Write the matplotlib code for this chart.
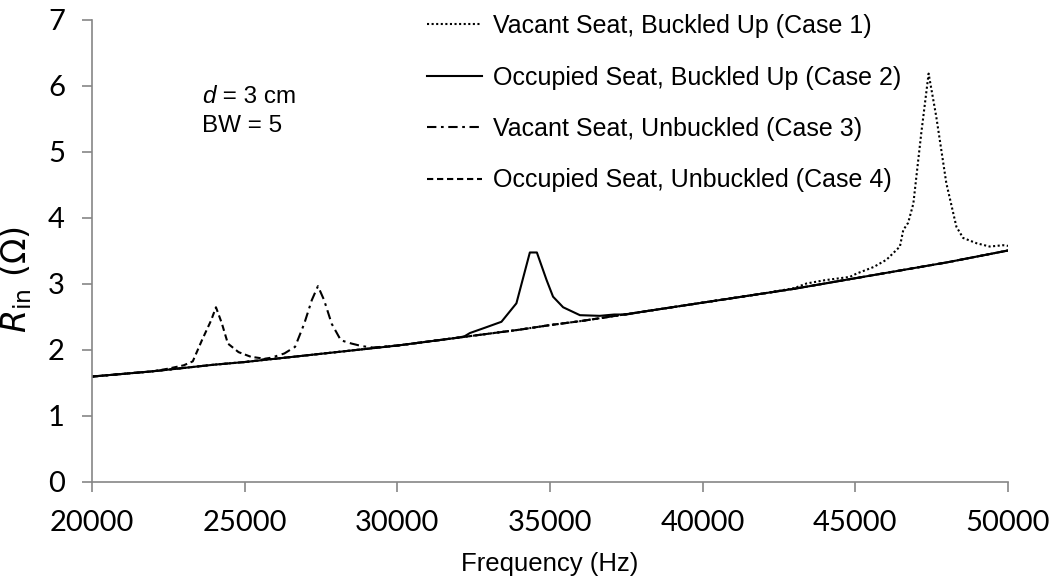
import numpy as np
import matplotlib.pyplot as plt

plt.rcParams['mathtext.fontset'] = 'dejavusans'

# Common background response (Hz, ohm) shared by all four cases
base_freq = [20000, 21000, 22000, 23000, 24000, 25000, 26000, 27000, 28000, 29000,
             30000, 31000, 32000, 33000, 34000, 35000, 36000, 37000, 38000, 39000,
             40000, 41000, 42000, 43000, 44000, 45000, 46000, 47000, 48000, 49000, 50000]
base_r = [1.59, 1.63, 1.67, 1.72, 1.77, 1.81, 1.86, 1.91, 1.96, 2.01,
          2.06, 2.12, 2.18, 2.24, 2.30, 2.37, 2.43, 2.50, 2.57, 2.64,
          2.71, 2.78, 2.85, 2.92, 3.00, 3.08, 3.16, 3.24, 3.32, 3.41, 3.50]

# Resonance segments of each case
case1_freq = [43000, 43400, 44000, 44820, 45040, 45600, 46020, 46130, 46460, 46570, 46730,
              46900, 47160, 47400, 47650, 47980, 48310, 48530, 48970, 49400, 49840, 50000]
case1_r = [2.93, 3.00, 3.05, 3.10, 3.15, 3.25, 3.36, 3.41, 3.56, 3.81, 3.92,
           4.21, 5.28, 6.18, 5.53, 4.52, 3.86, 3.69, 3.61, 3.56, 3.58, 3.57]

case2_freq = [32200, 32380, 32870, 33410, 33900, 34340, 34570, 34890, 35100, 35430,
              35980, 36630, 37100, 37500]
case2_r = [2.20, 2.25, 2.33, 2.42, 2.70, 3.47, 3.47, 3.05, 2.80, 2.64,
           2.52, 2.51, 2.53, 2.53]

case3_freq = [25500, 25900, 26300, 26650, 26950, 27200, 27400, 27600, 27850, 28150,
              28500, 28850, 29200]
case3_r = [1.84, 1.88, 1.94, 2.04, 2.39, 2.75, 2.96, 2.75, 2.39, 2.14,
           2.09, 2.05, 2.03]

case4_freq = [22000, 22500, 23000, 23300, 23600, 23900, 24060, 24250, 24450, 24800,
              25200, 25650, 26000]
case4_r = [1.67, 1.71, 1.76, 1.82, 2.14, 2.44, 2.64, 2.40, 2.09, 1.96,
           1.89, 1.86, 1.86]

labels = ["Vacant Seat, Buckled Up (Case 1)",
          "Occupied Seat, Buckled Up (Case 2)",
          "Vacant Seat, Unbuckled (Case 3)",
          "Occupied Seat, Unbuckled (Case 4)"]
styles = [(0, (1, 1.2)), '-', (0, (4.5, 2.2, 1.3, 2.2)), (0, (3, 1.8))]


def merge(seg_f, seg_r):
    bf = np.array(base_freq)
    br = np.array(base_r)
    keep = (bf < seg_f[0]) | (bf > seg_f[-1])
    f = np.concatenate([bf[keep], seg_f])
    r = np.concatenate([br[keep], seg_r])
    order = np.argsort(f)
    return f[order], r[order]


cases = [(case1_freq, case1_r), (case2_freq, case2_r),
         (case3_freq, case3_r), (case4_freq, case4_r)]

fig = plt.figure(figsize=(10.56, 5.8), dpi=100)
ax = fig.add_axes([92 / 1056, 1 - 481.5 / 580, 916 / 1056, 462 / 580])

for (sf, sr), lab, ls in zip(cases, labels, styles):
    f, r = merge(sf, sr)
    ax.plot(f, r, color='black', linestyle=ls, linewidth=1.5, label=lab)

ax.set_xlim(20000, 50000)
ax.set_ylim(0, 7)
ax.set_xticks(range(20000, 50001, 5000))
ax.set_yticks(range(0, 8))

gray = '#868686'
for s in ['top', 'right']:
    ax.spines[s].set_visible(False)
for s in ['left', 'bottom']:
    ax.spines[s].set_color(gray)
    ax.spines[s].set_linewidth(1.2)
ax.tick_params(axis='both', direction='out', length=7.5, width=1.2, color=gray,
               labelsize=21, labelcolor='black')
ax.tick_params(axis='x', pad=13)
ax.tick_params(axis='y', pad=12)
for t in ax.get_xticklabels() + ax.get_yticklabels():
    t.set_family('Lato')

ax.set_xlabel("Frequency (Hz)", fontsize=18.5, family='Liberation Sans')
ax.xaxis.set_label_coords(0.5, -0.1526)
ax.xaxis.label.set_va('top')
ax.set_ylabel(r'$R_{\mathrm{in}}$ (Ω)', fontsize=24, family='DejaVu Sans')
ax.yaxis.set_label_coords(-0.063, 0.436)

leg = fig.legend(loc='upper left', bbox_to_anchor=(427 / 1056, 1 - 14 / 580),
                 bbox_transform=fig.transFigure, frameon=False, borderpad=0,
                 borderaxespad=0, handlelength=2.2, handletextpad=0.45,
                 labelspacing=1.1, prop={'family': 'Liberation Sans', 'size': 18})

d_txt = fig.text(202 / 1056, 1 - 103 / 580, "d", style='italic',
                 family='Liberation Sans', fontsize=17.5, va='baseline')
ax.annotate(" = 3 cm", xy=(1, 0), xycoords=d_txt, va='bottom', ha='left',
            family='Liberation Sans', fontsize=17.5, annotation_clip=False)
fig.text(202 / 1056, 1 - 132 / 580, "BW = 5", family='Liberation Sans',
         fontsize=17.5, va='baseline')

fig.savefig("out.png", dpi=100)
